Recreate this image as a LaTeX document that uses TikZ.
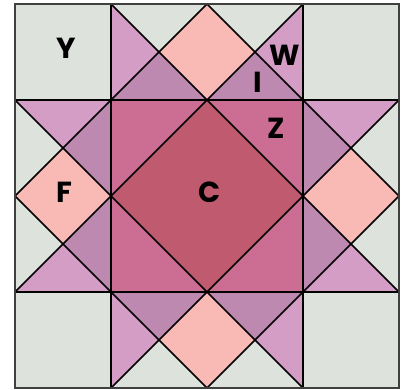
\documentclass[tikz,border=0pt]{standalone}
\usepackage{fontspec}
\newfontfamily\lblfont{Poppins}[BoldFont={Poppins Bold}]
\definecolor{qgray}{HTML}{DEE2DC}
\definecolor{qlilac}{HTML}{D39DC5}
\definecolor{qpurple}{HTML}{BE89B1}
\definecolor{qsalmon}{HTML}{F9BAB6}
\definecolor{qpink}{HTML}{CC6D93}
\definecolor{qrose}{HTML}{BF5A6F}
\tikzset{
  seam/.style={draw=black, line width=1.6pt, line cap=round, line join=round},
  border/.style={draw=black!75, line width=2pt},
  lbl/.style={inner sep=0pt, font=\lblfont\bfseries\fontsize{29}{29}\selectfont, text=black}
}
\begin{document}
\begin{tikzpicture}[x=1pt,y=-1pt]
\useasboundingbox (0,0) rectangle (401,389);
\begin{scope}[shift={(15pt,-4pt)}, x=96pt, y=-96pt]
  % background
  \fill[qgray] (0,0) rectangle (4,4);
  % center
  \fill[qpink] (1,1) rectangle (3,3);
  \fill[qrose] (2,1) -- (3,2) -- (2,3) -- (1,2) -- cycle;
  % salmon diamonds
  \fill[qsalmon] (1.5,0.5) -- (2,0) -- (2.5,0.5) -- (2,1) -- cycle;
  \fill[qsalmon] (1.5,3.5) -- (2,3) -- (2.5,3.5) -- (2,4) -- cycle;
  \fill[qsalmon] (0.5,1.5) -- (1,2) -- (0.5,2.5) -- (0,2) -- cycle;
  \fill[qsalmon] (3.5,1.5) -- (4,2) -- (3.5,2.5) -- (3,2) -- cycle;
  % lilac triangles
  \fill[qlilac] (1,0) -- (1.5,0.5) -- (1,1) -- cycle;
  \fill[qlilac] (3,0) -- (2.5,0.5) -- (3,1) -- cycle;
  \fill[qlilac] (1,3) -- (1.5,3.5) -- (1,4) -- cycle;
  \fill[qlilac] (3,3) -- (2.5,3.5) -- (3,4) -- cycle;
  \fill[qlilac] (0,1) -- (0.5,1.5) -- (1,1) -- cycle;
  \fill[qlilac] (0,3) -- (0.5,2.5) -- (1,3) -- cycle;
  \fill[qlilac] (3,1) -- (3.5,1.5) -- (4,1) -- cycle;
  \fill[qlilac] (3,3) -- (3.5,2.5) -- (4,3) -- cycle;
  % purple triangles
  \fill[qpurple] (1,1) -- (1.5,0.5) -- (2,1) -- cycle;
  \fill[qpurple] (2,1) -- (2.5,0.5) -- (3,1) -- cycle;
  \fill[qpurple] (1,3) -- (1.5,3.5) -- (2,3) -- cycle;
  \fill[qpurple] (2,3) -- (2.5,3.5) -- (3,3) -- cycle;
  \fill[qpurple] (1,1) -- (0.5,1.5) -- (1,2) -- cycle;
  \fill[qpurple] (1,2) -- (0.5,2.5) -- (1,3) -- cycle;
  \fill[qpurple] (3,1) -- (3.5,1.5) -- (3,2) -- cycle;
  \fill[qpurple] (3,2) -- (3.5,2.5) -- (3,3) -- cycle;
  % grid seams
  \path[seam] (1,0) -- (1,4) (3,0) -- (3,4) (0,1) -- (4,1) (0,3) -- (4,3);
  % diagonal seams
  \path[seam] (1,0) -- (4,3) (3,0) -- (0,3) (0,1) -- (3,4) (4,1) -- (1,4);
  \path[seam] (2,0) -- (0,2) (2,0) -- (4,2) (0,2) -- (2,4) (4,2) -- (2,4);
  % outer border
  \path[border] (0,0) rectangle (4,4);
\end{scope}
\node[lbl] (Y) at (66,48) {Y};
\node[lbl] (W) at (285,55) {W};
\node[lbl] (I) at (258,82) {I};
\node[lbl] (Z) at (276,128) {Z};
\node[lbl] (F) at (64,192) {F};
\node[lbl] (C) at (210,192) {C};
\end{tikzpicture}
\end{document}
